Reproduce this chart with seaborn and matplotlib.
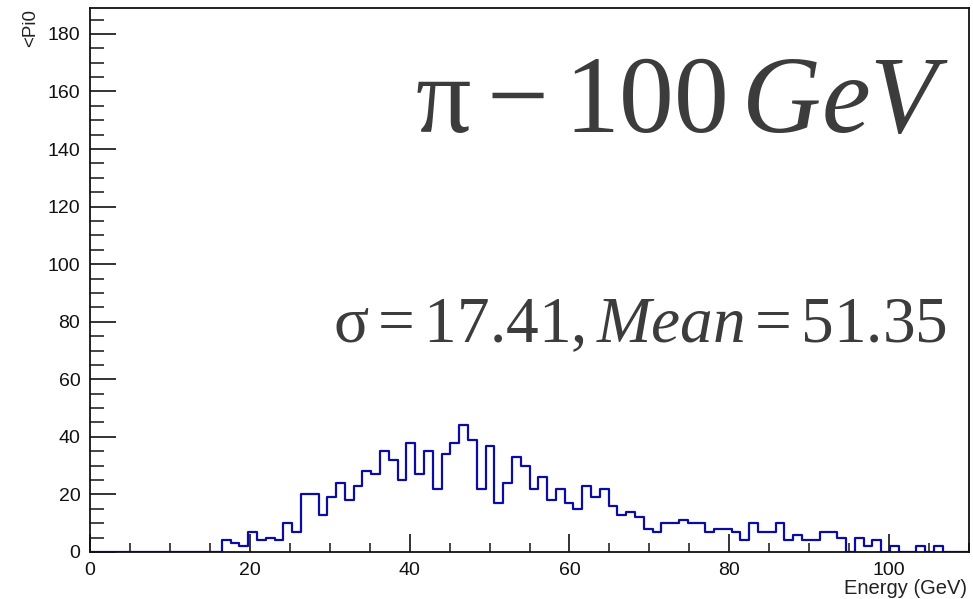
import numpy as np
import pandas as pd
import matplotlib
matplotlib.use("Agg")
import matplotlib.pyplot as plt
import seaborn as sns
from matplotlib.ticker import MultipleLocator

# ---- data ----
bin_edges = np.linspace(0, 110, 101)          # 100 bins, 1.1 GeV wide
counts = [0]*15 + [
    4, 3, 2, 7, 4, 5, 4, 10, 7, 20,            # bins 15-24
    20, 13, 19, 24, 18, 23, 28, 27, 35, 32,    # bins 25-34
    25, 38, 27, 35, 22, 34, 38, 44, 39, 22,    # bins 35-44
    37, 17, 24, 33, 30, 22, 26, 18, 22, 17,    # bins 45-54
    15, 23, 19, 22, 16, 13, 14, 12, 8, 7,      # bins 55-64
    10, 10, 11, 10, 10, 7, 8, 8, 7, 4,         # bins 65-74
    10, 7, 7, 10, 4, 6, 4, 4, 7, 7,            # bins 75-84
    5, 0, 5, 2, 4, 0, 2, 0, 0, 2,              # bins 85-94
    0, 2, 0, 0, 0,                             # bins 95-99
]
counts = counts + [0]*(100-len(counts))
bin_centers = 0.5*(bin_edges[:-1] + bin_edges[1:])

x_ticks = [0, 20, 40, 60, 80, 100]
y_ticks = [0, 20, 40, 60, 80, 100, 120, 140, 160, 180]
x_title = "Energy (GeV)"
y_title = "<Pi0"
title_main = r"$\mathrm{π}-100\,GeV$"
title_stats = r"$\mathrm{σ}=17.41,Mean=51.35$"

# ---- style ----
sns.set_style("ticks")
plt.rcParams["font.family"] = ["Liberation Sans", "DejaVu Sans"]
plt.rcParams["mathtext.fontset"] = "custom"
plt.rcParams["mathtext.rm"] = "Liberation Serif"
plt.rcParams["mathtext.it"] = "Liberation Serif:italic"
plt.rcParams["mathtext.bf"] = "Liberation Serif:bold"

fig = plt.figure(figsize=(9.73, 5.99), dpi=100)
ax = fig.add_axes([90/973, 47/599, 879/973, 544/599])

df = pd.DataFrame({"energy": bin_centers, "w": np.asarray(counts, dtype=float)})
sns.histplot(data=df, x="energy", weights="w", bins=list(bin_edges),
             element="step", fill=False, color="#0b0ba6", linewidth=1.6, ax=ax)

ax.set_xlim(0, 110)
ax.set_ylim(0, 189)
ax.set_xticks(x_ticks)
ax.set_yticks(y_ticks)
ax.xaxis.set_minor_locator(MultipleLocator(5))
ax.yaxis.set_minor_locator(MultipleLocator(5))
ax.tick_params(axis="x", which="major", direction="in", length=13, width=1.2,
               labelsize=14, pad=7, colors="#111111")
ax.tick_params(axis="x", which="minor", direction="in", length=6.5, width=1.2)
ax.tick_params(axis="y", which="major", direction="in", length=19, width=1.2,
               labelsize=14, pad=7, colors="#111111")
ax.tick_params(axis="y", which="minor", direction="in", length=10, width=1.2)
for s in ax.spines.values():
    s.set_visible(True)
    s.set_linewidth(1.3)
    s.set_color("#111111")
ax.set_xlabel("")
ax.set_ylabel("")

fig.text(967/973, 1-588/599, x_title, ha="right", va="center", fontsize=14.5,
         color="#222222")
fig.text(31/973, 1-9/599, y_title, ha="center", va="top", rotation=90,
         fontsize=13.5, color="#222222")

fig.text(949/973, 1-132/599, title_main, ha="right", va="baseline",
         fontsize=79, color="#3c3c3c")
fig.text(947/973, 1-342/599, title_stats, ha="right", va="baseline",
         fontsize=47, color="#3c3c3c")

fig.savefig("out.png", dpi=100)
